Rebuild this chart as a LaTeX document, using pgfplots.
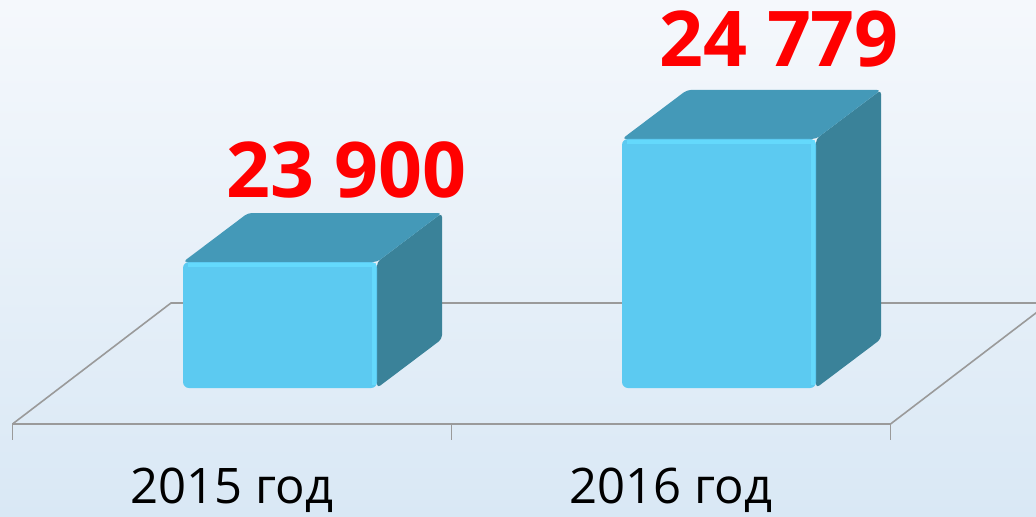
\documentclass[border=0pt]{standalone}
\usepackage{pgfplots}
\pgfplotsset{compat=1.18}
\usepackage{fontspec}
\setmainfont{Open Sans}
\definecolor{frontc}{HTML}{5CCAF1}
\definecolor{topc}{HTML}{4499B8}
\definecolor{sidec}{HTML}{3A8299}
\definecolor{hic}{HTML}{66DDFF}
\definecolor{floorc}{HTML}{9A9A9A}
\definecolor{bgtop}{HTML}{F5F8FC}
\definecolor{bgmid}{HTML}{F6F9FC}
\definecolor{bgbot}{HTML}{D9E8F5}
\definecolor{valred}{HTML}{FF0000}
\begin{document}
\begin{tikzpicture}
\begin{axis}[
  width=518pt, height=258pt, scale only axis,
  xmin=-0.52847, xmax=1.83144,
  ymin=22085.71, ymax=25771.43,
  axis line style={draw=none},
  xtick=\empty, ytick=\empty,
  clip=true,
  axis background/.style={shade, top color=bgtop, middle color=bgmid, bottom color=bgbot},
]
% floor
\addplot[floorc, line width=0.8pt] coordinates {(-0.5,22742.86) (1.5,22742.86)};
\addplot[floorc, line width=0.8pt] coordinates {(-0.5,22742.86) (-0.139,23607.14) (1.861,23607.14) (1.5,22742.86)};
\addplot[floorc, line width=0.8pt] coordinates {(-0.5,22742.86) (-0.5,22628.57)};
\addplot[floorc, line width=0.8pt] coordinates {(0.5,22742.86) (0.5,22628.57)};
\addplot[floorc, line width=0.8pt] coordinates {(1.5,22742.86) (1.5,22628.57)};
% bar 2015 : 23900
\addplot[fill=sidec, draw=none, rounded corners=2pt] coordinates {(0.3303,23000) (0.3303,23900) (0.4784,24250) (0.4784,23350)} -- cycle;
\addplot[fill=topc, draw=none, rounded corners=2pt] coordinates {(-0.1116,23900) (0.3303,23900) (0.4784,24250) (0.0365,24250)} -- cycle;
\addplot[fill=frontc, draw=none, rounded corners=3pt] coordinates {(-0.1116,23000) (0.3303,23000) (0.3303,23900) (-0.1116,23900)} -- cycle;
\addplot[hic, line width=2pt, opacity=0.8] coordinates {(-0.100,23880) (0.3235,23880) (0.3235,23020)};
% bar 2016 : 24779
\addplot[fill=sidec, draw=none, rounded corners=2pt] coordinates {(1.3303,23000) (1.3303,24779) (1.4784,25129) (1.4784,23350)} -- cycle;
\addplot[fill=topc, draw=none, rounded corners=2pt] coordinates {(0.8884,24779) (1.3303,24779) (1.4784,25129) (1.0365,25129)} -- cycle;
\addplot[fill=frontc, draw=none, rounded corners=3pt] coordinates {(0.8884,23000) (1.3303,23000) (1.3303,24779) (0.8884,24779)} -- cycle;
\addplot[hic, line width=2pt, opacity=0.8] coordinates {(0.900,24759) (1.3235,24759) (1.3235,23020)};
% labels
\node[anchor=base, text=valred, font=\fontsize{38.5}{40}\selectfont\bfseries] at (axis cs:0.2608,24364.3) {23 900};
\node[anchor=base, text=valred, font=\fontsize{38.5}{40}\selectfont\bfseries] at (axis cs:1.246,25292.9) {24 779};
\node[anchor=base, text=black, font=\fontsize{24.5}{26}\selectfont] at (axis cs:0,22178.6) {2015 год};
\node[anchor=base, text=black, font=\fontsize{24.5}{26}\selectfont] at (axis cs:1,22178.6) {2016 год};
\end{axis}
\end{tikzpicture}
\end{document}
